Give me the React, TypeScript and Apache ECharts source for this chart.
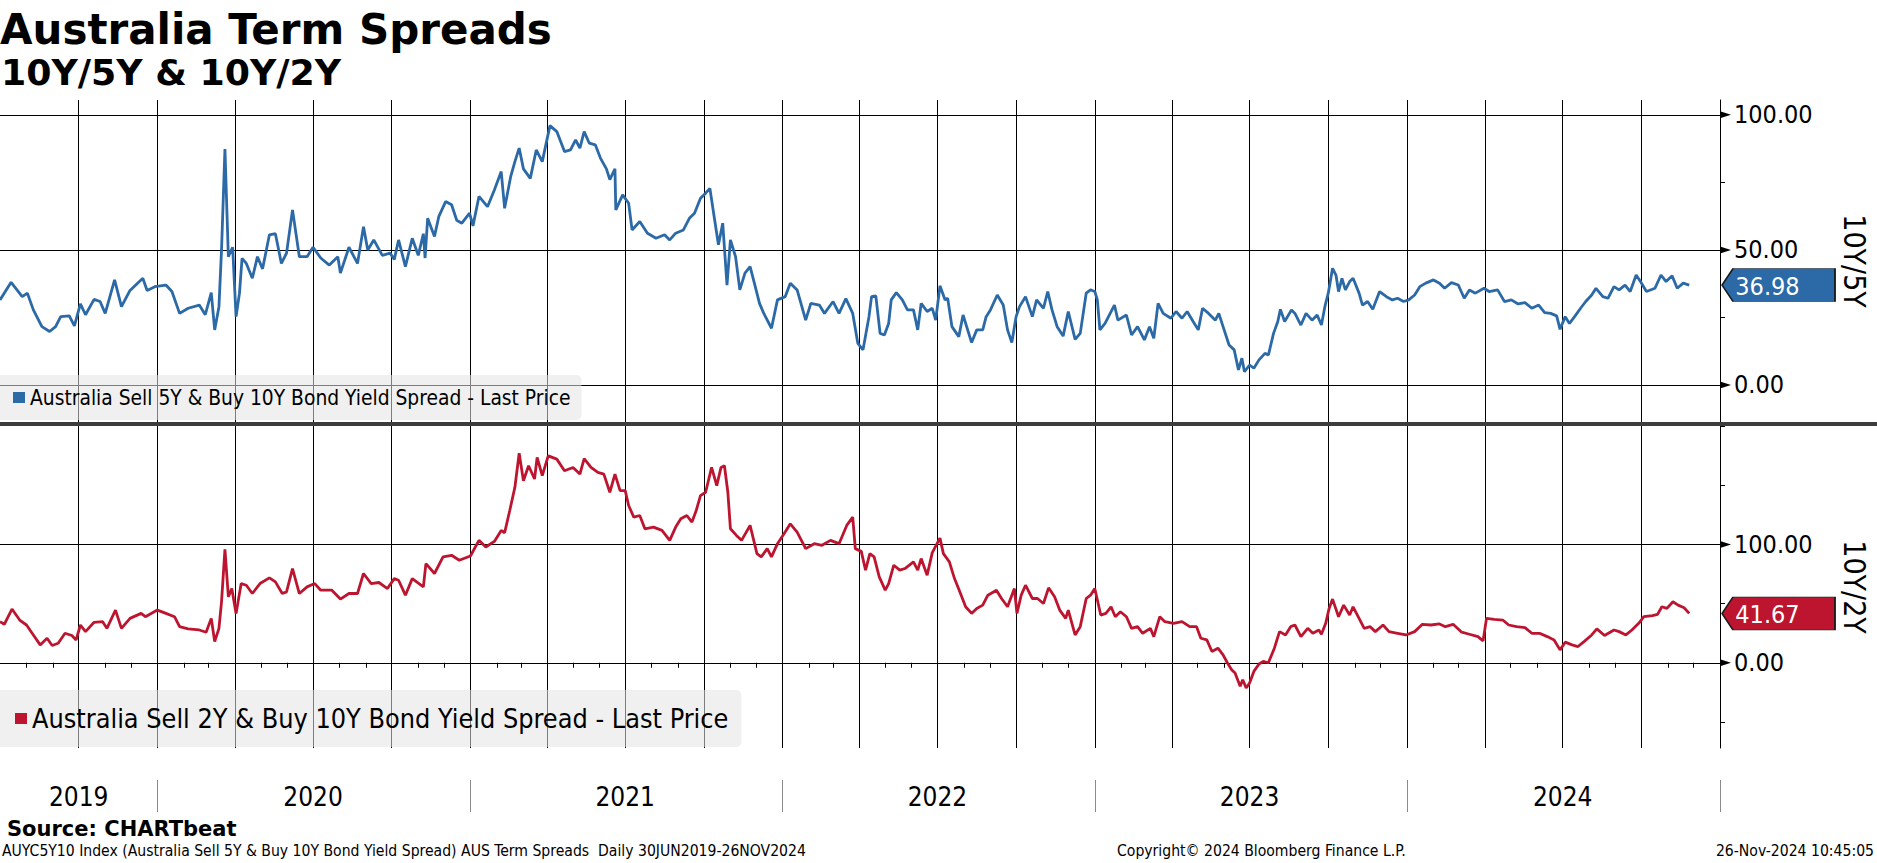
import React, { useEffect, useRef } from "react";
import * as echarts from "echarts";

// ---------- DATA ----------
const START_DATE = "2019-07-01"; // day 0 of the day offsets below
const AXIS_START = "2019-07-01";
const AXIS_END = "2025-01-01";

const NAME_5Y = "Australia Sell 5Y & Buy 10Y Bond Yield Spread - Last Price";
const NAME_2Y = "Australia Sell 2Y & Buy 10Y Bond Yield Spread - Last Price";

// days after START_DATE
const days5Y = [0,13,26,32,39,49,58,65,71,81,87,94,100,110,117,123,129,134,142,152,167,172,181,194,201,210,220,233,240,247,251,256,259,263,267,272,276,280,283,288,295,301,307,315,322,329,335,342,350,359,366,375,385,395,398,408,418,425,430,437,447,456,461,466,474,482,489,495,497,500,508,513,521,528,534,540,549,553,560,570,578,586,590,597,602,607,612,620,627,634,643,651,660,667,673,678,683,689,696,702,709,713,719,720,728,735,739,748,757,767,777,783,790,799,806,812,819,825,830,835,840,845,850,854,860,865,871,877,882,888,893,902,909,918,924,932,942,948,958,964,974,981,989,997,1003,1009,1016,1019,1024,1029,1034,1039,1042,1048,1055,1061,1068,1073,1077,1084,1090,1094,1099,1105,1108,1113,1121,1126,1136,1142,1149,1153,1158,1166,1173,1178,1183,1188,1192,1199,1207,1212,1220,1225,1230,1236,1243,1249,1257,1263,1270,1275,1280,1283,1286,1292,1298,1303,1307,1317,1323,1330,1338,1344,1349,1354,1360,1369,1375,1382,1388,1395,1401,1406,1413,1421,1425,1430,1437,1443,1448,1452,1455,1461,1466,1472,1479,1483,1489,1494,1497,1502,1510,1514,1521,1527,1534,1540,1545,1549,1553,1558,1562,1565,1569,1573,1578,1582,1589,1593,1599,1605,1613,1621,1628,1634,1641,1647,1654,1660,1667,1676,1683,1689,1697,1705,1712,1718,1725,1735,1741,1751,1759,1767,1775,1783,1791,1799,1806,1813,1820,1824,1830,1835,1841,1848,1854,1861,1866,1874,1880,1887,1893,1900,1906,1913,1918,1925,1935,1942,1948,1955,1961,1968,1975];
const spread5Y = [31.5,38,32.7,34,27.8,21.6,19.8,21.6,25.3,25.6,21.9,30,26,31.7,30.9,26.5,33.3,38.9,29,35,39.5,35,36.4,37,34.6,26.5,28.4,29.6,26,34.2,20.4,29,50,87.3,47.5,51,25.3,34,46.9,45,39.5,47.5,43,55.6,56,45,48.8,64.8,47.5,47.5,51,47,44.4,47.5,41.4,51,45,58.6,50,53.7,48,48.8,46.5,53.7,43.8,54.3,48,56,47,61.7,55,62.3,67.9,66.7,61,59.9,63.6,58.9,69.8,66,72.2,79,65.4,77,82.7,87.7,80,76.5,87,82.7,96,93.8,86.4,87,90.7,87.7,93.8,89.5,88.9,84,80,76,80,64.8,70.4,67.3,57.4,60.5,56.2,54.3,55.6,53.7,56.2,57.4,61.7,63.6,69.1,71,72.8,62.3,51.9,59.9,37,53.7,47.5,35.2,41.4,43.8,37.7,30.2,26.5,21,31.5,32.7,37.7,35.2,24,30.2,29.6,26.5,30.9,26.5,32,26.5,15.4,13,25.3,32.7,33,19.1,18.5,22.8,31.5,34.2,31.5,27.8,27.8,20.4,30.2,27.2,28.4,24,36.7,31.5,32.1,21.6,17.9,25.9,15.7,20.4,20.4,25.3,27.8,33.3,29.6,20.4,15.7,25.3,29,32.7,25.3,31.5,28.4,34.6,27.8,21.6,18.1,27.2,16.9,19.1,34,35.2,34.6,31.5,20.4,22.8,26.5,29.6,24,25.9,18.5,21.6,16.7,21.6,17.3,30.2,26.5,24.7,27.2,24.7,27.2,23.5,20.4,28.4,26.5,24,26.5,21.6,14.8,13,5.6,9.9,4.9,7.4,6.2,9.3,11.7,11.1,19.1,23.5,28,23.5,27.8,26.5,22.2,26.5,24,25.9,22.2,29,34,43.2,40.7,34.6,39.5,35.2,38.3,39.5,34,29.6,30.9,28,34.6,32.7,31.5,32.1,30.9,31.5,33.3,36.4,37.7,38.9,37.7,35.8,37.9,37,32.1,35.2,34,35.8,34.6,35.2,30.9,31.5,30,30.5,28.4,29.6,26.8,26.5,25.6,20.6,25.3,22.8,25.3,28.4,30.9,33.3,35.8,32.7,32.1,36.4,35.2,37,34.6,40.7,38.3,34.6,35.8,40.7,38.3,40.4,35.8,37.7,36.98];

const days2Y = [0,5,14,23,31,39,47,55,61,68,76,84,89,94,100,110,120,125,135,142,152,165,170,184,194,204,210,220,233,241,247,251,256,259,263,267,271,276,282,288,295,304,315,322,330,335,342,350,359,368,375,388,398,408,418,425,434,443,453,461,466,474,482,495,498,508,518,528,537,550,560,568,578,586,590,596,602,607,612,618,625,628,634,641,651,660,670,678,683,691,699,706,713,719,725,731,735,741,748,754,764,774,783,790,796,803,809,814,819,825,832,838,843,847,851,854,861,867,877,885,890,897,902,909,918,924,932,942,952,961,971,981,990,997,1000,1007,1012,1017,1022,1028,1035,1039,1045,1052,1058,1068,1073,1077,1084,1090,1099,1103,1110,1116,1123,1129,1136,1142,1149,1155,1165,1171,1178,1186,1189,1194,1199,1207,1213,1220,1226,1233,1239,1246,1249,1257,1263,1270,1275,1280,1287,1293,1299,1304,1310,1317,1323,1330,1336,1345,1349,1356,1362,1372,1382,1391,1399,1404,1411,1417,1424,1430,1435,1440,1444,1450,1453,1457,1461,1466,1472,1477,1483,1490,1496,1503,1509,1514,1521,1529,1535,1542,1545,1550,1554,1558,1565,1571,1578,1582,1589,1595,1602,1608,1617,1624,1634,1644,1654,1663,1673,1683,1690,1699,1709,1718,1728,1734,1738,1747,1757,1764,1773,1783,1791,1800,1809,1817,1824,1830,1838,1845,1852,1861,1867,1876,1887,1893,1901,1908,1916,1922,1932,1938,1943,1949,1956,1962,1969,1975];
const spread2Y = [34.7,32.5,45.4,36.1,31.9,23.5,15.1,20.7,14.6,16.5,24.9,23,19.3,31.9,26.3,34.2,34.7,29.1,44.5,29.1,37.5,41.7,38.9,44.5,41.7,38.9,30.5,28.6,27.7,25.8,37.5,17.9,29.1,51.5,95.8,55.7,62.7,41.7,66.9,65.5,58.5,66.9,71.7,68.3,58.5,59.9,79.6,58.5,64.1,66.9,61.3,61.3,53.8,58.5,58.5,75.4,66.9,67.8,62.7,71.1,69.7,57.1,71.1,64.1,83.8,75.4,89.4,90.8,86.6,90.2,103.4,97.8,102.5,111.8,109.8,128.6,148.2,177,153.8,166.4,155.2,173.4,158,174.8,172,162.2,165,159.4,172.5,165,160.8,159.4,144,159.4,145.4,145.4,132.8,123,124.4,113.2,114.6,111.8,103.4,114.6,121.6,124.4,118.8,128.6,141.2,144,165,149.6,165,166.4,144,113.2,107.6,103.4,116,92.2,89.4,96.4,89.4,100.6,110.4,117.4,110.4,96.4,100.6,99.2,103.4,100.6,116,123,96.4,94.1,78.2,92.2,89.4,72.5,61.3,66.9,82.4,78.2,79.6,85.2,78.2,88,74,93,105.3,92.2,85.2,71.1,58.5,47.3,41.7,45.9,48.7,57.1,61.3,54.3,47.3,62.7,41.7,57.1,65.5,54.3,54.3,50.1,63.3,55.7,44.5,37.5,44.5,23.5,30.5,54.3,57.1,62.7,40.3,41.7,47.3,38.9,43.1,38.9,29.1,30.5,24.9,29.1,22.1,38.9,34.7,33.3,34.7,30.5,30.5,20.7,19.3,9.5,12.3,6.7,0,-5.9,-8.7,-19.9,-14.3,-21.3,-17.1,-7.3,-1.1,1.1,0,12.3,26.3,23.5,30.5,31.9,22.1,29.1,24.9,27.7,24.1,33.3,45.9,53.8,38.9,48.7,40.3,47.3,37.5,29.1,30.5,26.3,31.9,26.3,24.9,23.5,26.3,32.5,31.9,32.8,30.5,32.5,25.8,24.1,22.1,18.5,37.5,36.7,36.1,31.9,30.5,29.7,24.9,24.9,22.1,19.3,10.9,17.4,15.1,13.7,17.9,23.5,28.6,23,27.7,26.3,23.5,27.7,33.3,38.9,39.8,40.9,47.3,45.9,51.5,48.7,46.5,41.67];

const quarterLines = ["2019-10-01","2020-01-01","2020-04-01","2020-07-01","2020-10-01","2021-01-01","2021-04-01","2021-07-01","2021-10-01","2022-01-01","2022-04-01","2022-07-01","2022-10-01","2023-01-01","2023-04-01","2023-07-01","2023-10-01","2024-01-01","2024-04-01","2024-07-01","2024-10-01"];
const yearSeparators = ["2020-01-01","2021-01-01","2022-01-01","2023-01-01","2024-01-01","2025-01-01"];
const yearLabelDates = ["2019-10-01","2020-07-01","2021-07-01","2022-07-01","2023-07-01","2024-07-01"];
const yearLabels = ["2019","2020","2021","2022","2023","2024"];

const top5YLabels = [0, 50, 100];
const top5YMinor = [25, 75];
const bottom2YLabels = [0, 100];
const bottom2YMinor = [-50, 50, 150, 200];

// ---------- HELPERS ----------
const DAY = 86400000;
const ts = (s: string) => Date.parse(s + "T00:00:00Z");
const T0 = ts(START_DATE);
const XMIN = ts(AXIS_START);
const XMAX = ts(AXIS_END);

const monthTicks: number[] = [];
for (let y = 2019; y <= 2024; y++) {
  for (let m = 0; m < 12; m++) {
    const v = Date.UTC(y, m, 1);
    if (v > XMIN && v <= XMAX) monthTicks.push(v);
  }
}
monthTicks.push(XMAX);

const BLUE = "#2b69a7";
const RED = "#bd1530";
const COND = "'DejaVu Sans Condensed', 'Liberation Sans Narrow', 'DejaVu Sans', sans-serif";
const BOLD = "'DejaVu Sans', Verdana, sans-serif";

function buildOption() {
  const data5 = days5Y.map((d, i) => [T0 + d * DAY, spread5Y[i]]);
  const data2 = days2Y.map((d, i) => [T0 + d * DAY, spread2Y[i]]);
  const last5 = spread5Y[spread5Y.length - 1];
  const last2 = spread2Y[spread2Y.length - 1];
  const qTs = quarterLines.map(ts);
  const labelTs = yearLabelDates.map(ts);

  const gridLineStyle = { color: "#000", width: 1, type: "solid" as const };
  const markLineFor = (hValues: number[]) => ({
    silent: true,
    symbol: ["none", "none"],
    z: 3,
    label: { show: false },
    emphasis: { disabled: true },
    lineStyle: gridLineStyle,
    data: [...qTs.map((x) => ({ xAxis: x })), ...hValues.map((y) => ({ yAxis: y }))],
  });
  const arrow = (v: number) => ({
    coord: [XMAX, v],
    symbol: "triangle",
    symbolSize: [7, 11],
    symbolRotate: -90,
    symbolOffset: [5.5, 0],
    itemStyle: { color: "#000" },
    label: { show: false },
  });
  const tag = (v: number, color: string) => ({
    coord: [XMAX, v],
    symbol: "path://M0,16.5L11,0L113,0L113,33L11,33Z",
    symbolSize: [113, 33],
    symbolKeepAspect: false,
    symbolOffset: [58.5, 0],
    itemStyle: { color, borderColor: "#1a1a1a", borderWidth: 1 },
    label: {
      show: true,
      position: "inside",
      formatter: v.toFixed(2),
      color: "#fff",
      fontSize: 25,
      fontFamily: COND,
      offset: [-11, 1],
    },
  });

  const yAxisBase = (min: number, max: number, labels: number[], minor: number[], name: string, gridIndex: number) => ({
    type: "value",
    gridIndex,
    position: "right",
    min,
    max,
    axisLine: { show: true, lineStyle: { color: "#000", width: 1 } },
    axisTick: { show: true, customValues: minor, length: 5, lineStyle: { color: "#000", width: 1 } },
    axisLabel: {
      show: true,
      customValues: labels,
      formatter: (v: number) => v.toFixed(2),
      margin: 14,
      fontSize: 25,
      fontFamily: COND,
      color: "#000",
    },
    splitLine: { show: false },
    name,
    nameLocation: "middle",
    nameRotate: -90,
    nameGap: 119,
    nameTextStyle: { fontSize: 30, fontFamily: COND, color: "#000" },
  });

  const legendBase = {
    left: 0,
    orient: "horizontal",
    icon: "rect",
    itemWidth: 12,
    itemHeight: 11,
    itemGap: 0,
    selectedMode: false,
    backgroundColor: "rgba(228,228,228,0.55)",
    borderRadius: [0, 5, 5, 0],
    z: 12,
  };

  return {
    animation: false,
    backgroundColor: "#fff",
    grid: [
      { left: 0, right: 153, top: 100, height: 322 },
      { left: 0, right: 153, top: 426, height: 322 },
    ],
    xAxis: [
      { type: "value", gridIndex: 0, min: XMIN, max: XMAX, show: false, splitLine: { show: false } },
      {
        type: "value",
        gridIndex: 1,
        min: XMIN,
        max: XMAX,
        axisLine: { show: true, lineStyle: { color: "#000", width: 1 } },
        axisTick: { show: true, customValues: monthTicks, length: 5, lineStyle: { color: "#000", width: 1 } },
        axisLabel: {
          show: true,
          customValues: labelTs,
          hideOverlap: false,
          formatter: (v: number) => {
            const i = labelTs.findIndex((x) => Math.abs(x - v) < DAY);
            return i >= 0 ? yearLabels[i] : "";
          },
          margin: 49,
          verticalAlign: "middle",
          fontSize: 26,
          fontFamily: COND,
          color: "#000",
        },
        splitLine: { show: false },
      },
      {
        type: "value",
        gridIndex: 1,
        min: XMIN,
        max: XMAX,
        position: "bottom",
        offset: 32,
        axisLine: { show: false },
        axisTick: { show: true, customValues: yearSeparators.map(ts), length: 32, lineStyle: { color: "#8a8a8a", width: 1 } },
        axisLabel: { show: false },
        splitLine: { show: false },
      },
    ],
    yAxis: [
      yAxisBase(-13.7, 105.5, top5YLabels, top5YMinor, "10Y/5Y", 0),
      yAxisBase(-72, 200, bottom2YLabels, bottom2YMinor, "10Y/2Y", 1),
    ],
    legend: [
      {
        ...legendBase,
        data: [NAME_5Y],
        top: 375,
        padding: [12, 11, 12, 13],
        textStyle: { fontSize: 20.8, fontFamily: COND, color: "#000" },
      },
      {
        ...legendBase,
        data: [NAME_2Y],
        top: 690,
        padding: [15, 13, 15, 15],
        textStyle: { fontSize: 26.8, fontFamily: COND, color: "#000" },
      },
    ],
    series: [
      {
        type: "line",
        name: NAME_5Y,
        xAxisIndex: 0,
        yAxisIndex: 0,
        data: data5,
        showSymbol: false,
        symbol: "none",
        silent: true,
        z: 10,
        lineStyle: { color: BLUE, width: 2.8 },
        itemStyle: { color: BLUE },
        markLine: markLineFor(top5YLabels),
        markPoint: { silent: true, z: 12, data: [...top5YLabels.map(arrow), tag(last5, BLUE)] },
      },
      {
        type: "line",
        name: NAME_2Y,
        xAxisIndex: 1,
        yAxisIndex: 1,
        data: data2,
        showSymbol: false,
        symbol: "none",
        silent: true,
        z: 10,
        lineStyle: { color: RED, width: 2.8 },
        itemStyle: { color: RED },
        markLine: markLineFor(bottom2YLabels),
        markPoint: { silent: true, z: 12, data: [...bottom2YLabels.map(arrow), tag(last2, RED)] },
      },
    ],
    graphic: [
      { type: "rect", z: 20, shape: { x: 0, y: 422, width: 1877, height: 4 }, style: { fill: "#3c3c3c" }, silent: true },
      {
        type: "text", x: 0, y: 29.5, silent: true,
        style: { text: "Australia Term Spreads", fontSize: 42, fontWeight: "bold", fontFamily: BOLD, fill: "#000", verticalAlign: "middle" },
      },
      {
        type: "text", x: 1, y: 72.5, silent: true,
        style: { text: "10Y/5Y & 10Y/2Y", fontSize: 36.3, fontWeight: "bold", fontFamily: BOLD, fill: "#000", verticalAlign: "middle" },
      },
      {
        type: "text", x: 7, y: 829, silent: true,
        style: { text: "Source: CHARTbeat", fontSize: 21, fontWeight: "bold", fontFamily: BOLD, fill: "#000", verticalAlign: "middle" },
      },
      {
        type: "text", x: 2, y: 851, silent: true,
        style: { text: "AUYC5Y10 Index (Australia Sell 5Y & Buy 10Y Bond Yield Spread) AUS Term Spreads  Daily 30JUN2019-26NOV2024", fontSize: 15.6, fontFamily: COND, fill: "#000", verticalAlign: "middle" },
      },
      {
        type: "text", x: 1117, y: 851, silent: true,
        style: { text: "Copyright\u00a9 2024 Bloomberg Finance L.P.", fontSize: 15.6, fontFamily: COND, fill: "#000", verticalAlign: "middle" },
      },
      {
        type: "text", x: 1874, y: 851, silent: true,
        style: { text: "26-Nov-2024 10:45:05", fontSize: 15.6, fontFamily: COND, fill: "#000", verticalAlign: "middle", align: "right" },
      },
    ],
  };
}

export default function App() {
  const ref = useRef<HTMLDivElement>(null);
  useEffect(() => {
    if (!ref.current) return;
    const chart = echarts.init(ref.current, undefined, { renderer: "svg" });
    chart.setOption(buildOption() as any);
    return () => chart.dispose();
  }, []);
  return (
    <div
      ref={ref}
      style={{ position: "absolute", left: 0, top: 0, width: 1877, height: 863, background: "#fff" }}
    />
  );
}
